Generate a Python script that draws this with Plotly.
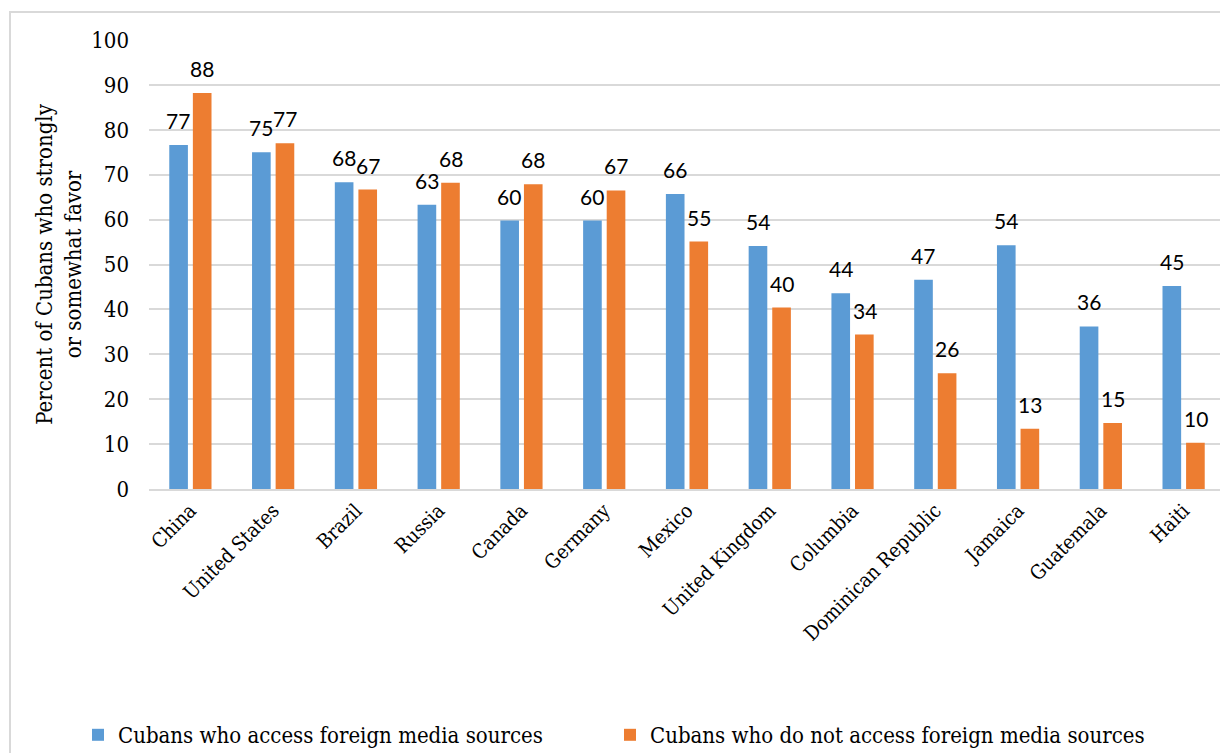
import plotly.graph_objects as go

countries = ["China", "United States", "Brazil", "Russia", "Canada", "Germany", "Mexico",
             "United Kingdom", "Columbia", "Dominican Republic", "Jamaica", "Guatemala", "Haiti"]
access_vals = [76.6, 75.0, 68.3, 63.3, 59.8, 59.8, 65.7, 54.1, 43.6, 46.6, 54.3, 36.2, 45.2]
access_labels = ["77", "75", "68", "63", "60", "60", "66", "54", "44", "47", "54", "36", "45"]
noaccess_vals = [88.2, 77.0, 66.7, 68.2, 67.9, 66.5, 55.1, 40.4, 34.4, 25.8, 13.4, 14.7, 10.3]
noaccess_labels = ["88", "77", "67", "68", "68", "67", "55", "40", "34", "26", "13", "15", "10"]

series_names = ["Cubans who access foreign media sources",
                "Cubans who do not access foreign media sources"]
colors = ["#5B9BD5", "#ED7D31"]

serif = "DejaVu Serif Condensed, DejaVu Serif, serif"
label_font = dict(family="Lato, Liberation Sans, Arial, sans-serif", size=21, color="#000000")

# page has an 8px body margin; figure coords = page coords - 8
OFF = 8
W, H = 1228 - OFF, 753 - OFF
plot_left, plot_right, plot_top, plot_bottom = 149 - OFF, 1225 - OFF, 40 - OFF, 489 - OFF
L, R, T, B = plot_left, W - plot_right, plot_top, H - plot_bottom
pw, ph = W - L - R, H - T - B

def px_x(x):  # page px -> paper
    return (x - OFF - L) / pw

def px_y(y):
    return (plot_bottom - (y - OFF)) / ph

fig = go.Figure()
series = [(series_names[0], access_vals, access_labels, colors[0], -12, "legend"),
          (series_names[1], noaccess_vals, noaccess_labels, colors[1], 12, "legend2")]
annotations = []
for name, vals, labs, col, xs, leg in series:
    fig.add_trace(go.Bar(
        x=countries, y=vals, name=name, legend=leg,
        marker=dict(color=col, line=dict(width=0)),
        hoverinfo="x+y+name",
    ))
    for c, v, t in zip(countries, vals, labs):
        annotations.append(dict(x=c, y=v, xref="x", yref="y", text=t, showarrow=False,
                                xshift=xs, yshift=10, yanchor="bottom", xanchor="center",
                                font=label_font))

legend_common = dict(orientation="h", xanchor="left", yanchor="middle",
                     font=dict(family=serif, size=22, color="#000000"),
                     itemwidth=30, bgcolor="rgba(0,0,0,0)")

fig.update_layout(
    width=W, height=H,
    margin=dict(l=L, r=R, t=T, b=B, autoexpand=False),
    paper_bgcolor="white", plot_bgcolor="white",
    barmode="group", bargap=0.43, bargroupgap=0.21,
    font=dict(family=serif, color="#000000"),
    showlegend=True,
    legend=dict(x=px_x(78), y=px_y(735), **legend_common),
    legend2=dict(x=px_x(610), y=px_y(735), **legend_common),
    xaxis=dict(tickangle=-45, tickfont=dict(family=serif, size=20, color="#000000"),
               showgrid=False, showline=True, linecolor="#d9d9d9", linewidth=2,
               ticks="", automargin=False),
    yaxis=dict(range=[0, 100], dtick=10, tickfont=dict(family=serif, size=22, color="#000000"),
               showgrid=True, gridcolor="#d9d9d9", gridwidth=1.5,
               zeroline=False, showline=False, ticks="", ticklabelstandoff=19,
               title=dict(text="Percent of Cubans who strongly<br>or somewhat favor",
                          font=dict(family=serif, size=22, color="#000000"), standoff=3),
               automargin=False),
    annotations=annotations,
    shapes=[dict(type="rect", xref="paper", yref="paper",
                 x0=px_x(10), x1=px_x(1240), y0=px_y(765), y1=px_y(12),
                 line=dict(color="#d9d9d9", width=2), fillcolor="rgba(0,0,0,0)", layer="below")],
)

fig.write_html("out.html")
